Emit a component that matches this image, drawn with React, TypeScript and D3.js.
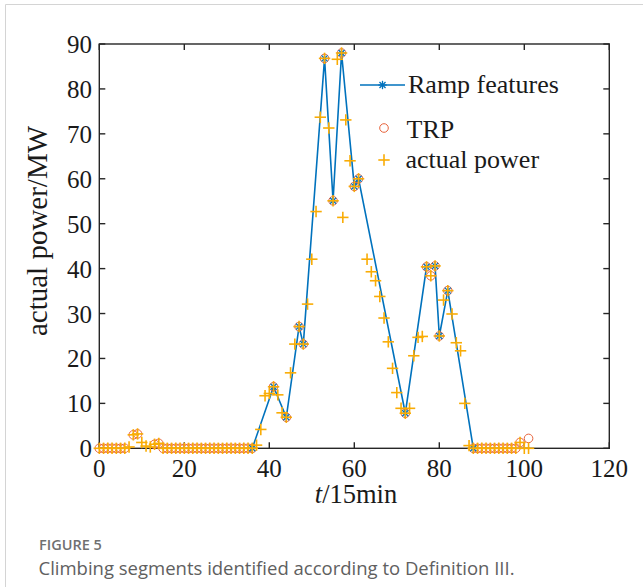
import React from 'react';
import * as d3 from 'd3';

// actual power (t, MW)
const powerT = [
  0, 1, 2, 3, 4, 5, 6, 7, 8, 9, 10, 11, 12, 13, 14, 15, 16, 17, 18, 19, 20,
  21, 22, 23, 24, 25, 26, 27, 28, 29, 30, 31, 32, 33, 34, 35, 36, 37, 38, 39,
  40, 41, 42, 43, 44, 45, 46, 47, 48, 49, 50, 51, 52, 53, 54, 55, 56, 57, 57.3,
  58, 59, 60, 61, 63, 64, 65, 66, 67, 68, 69, 70, 71, 72, 73, 74, 75, 76, 77,
  78, 79, 80, 81, 82, 83, 84, 85, 86, 87, 88, 89, 90, 91, 92, 93, 94, 95, 96,
  97, 98, 99, 100, 101,
];
const powerV = [
  0, 0, 0, 0, 0, 0, 0, 0.3, 3.0, 3.2, 1.3, 0.5, 0.3, 0.9, 1.1, 0, 0, 0, 0, 0, 0,
  0, 0, 0, 0, 0, 0, 0, 0, 0, 0, 0, 0, 0, 0, 0, 0, 0.7, 4.2, 11.7,
  12.2, 13.7, 11.9, 7.9, 6.9, 16.8, 23.2, 27.1, 23.2, 32.1, 42.1, 52.7, 73.7, 86.8, 71.3, 55.1, 86.6, 88.0, 51.4,
  73.1, 64.0, 58.3, 60.0, 42.1, 39.3, 37.3, 33.8, 29.0, 23.7, 17.8, 12.4, 8.9, 7.8, 8.9, 20.6, 24.7, 24.9, 40.4,
  38.4, 40.6, 25.0, 33.0, 35.1, 29.9, 23.5, 21.7, 10.0, 0.6, 0, 0, 0, 0, 0, 0, 0, 0, 0,
  0, 0, 1.3, 0, 0,
];

// TRP (t, MW)
const trpT = [
  0, 1, 2, 3, 4, 5, 6, 8, 9, 13, 14, 15, 16, 17, 18, 19, 20, 21, 22, 23, 24, 25,
  26, 27, 28, 29, 30, 31, 32, 33, 34, 35, 36, 41, 44, 47, 48, 53, 55, 57, 60, 61,
  72, 77, 78, 79, 80, 82, 88, 89, 90, 91, 92, 93, 94, 95, 96, 97, 98, 99, 101,
];
const trpV = [
  0, 0, 0, 0, 0, 0, 0, 3.0, 3.2, 0.9, 1.1, 0, 0, 0, 0, 0, 0, 0, 0, 0, 0, 0,
  0, 0, 0, 0, 0, 0, 0, 0, 0, 0, 0, 13.7, 6.9, 27.1, 23.2, 86.8, 55.1, 88.0, 58.3, 60.0,
  7.8, 40.4, 38.4, 40.6, 25.0, 35.1, 0, 0, 0, 0, 0, 0, 0, 0, 0, 0, 0, 1.3, 2.2,
];

// Ramp features (t, MW)
const featT = [36, 41, 44, 47, 48, 53, 55, 57, 60, 61, 72, 77, 79, 80, 82, 88];
const featV = [0, 13.7, 6.9, 27.1, 23.2, 86.8, 55.1, 88.0, 58.3, 60.0, 7.8, 40.4, 40.6, 25.0, 35.1, 0];

const xTicks = [0, 20, 40, 60, 80, 100, 120];
const yTicks = [0, 10, 20, 30, 40, 50, 60, 70, 80, 90];

const BLUE = '#0072BD';
const ORANGE = '#E8643C';
const YELLOW = '#F9AC05';
const AXIS = '#262626';
const SERIF = "'Times New Roman', 'Liberation Serif', serif";
const SANS = "'Open Sans', 'Noto Sans', sans-serif";

function Asterisk({ cx, cy, r = 4.2, color = BLUE }: { cx: number; cy: number; r?: number; color?: string }) {
  const d = r * 0.72;
  return (
    <g stroke={color} strokeWidth={1.3}>
      <line x1={cx - r} y1={cy} x2={cx + r} y2={cy} />
      <line x1={cx} y1={cy - r} x2={cx} y2={cy + r} />
      <line x1={cx - d} y1={cy - d} x2={cx + d} y2={cy + d} />
      <line x1={cx - d} y1={cy + d} x2={cx + d} y2={cy - d} />
    </g>
  );
}

function Plus({ cx, cy, r = 5.7, color = YELLOW }: { cx: number; cy: number; r?: number; color?: string }) {
  return (
    <g stroke={color} strokeWidth={1.6}>
      <line x1={cx - r} y1={cy} x2={cx + r} y2={cy} />
      <line x1={cx} y1={cy - r} x2={cx} y2={cy + r} />
    </g>
  );
}

export default function App() {
  const W = 643;
  const H = 587;
  const x = d3.scaleLinear().domain([0, 120]).range([99.3, 609.3]);
  const y = d3.scaleLinear().domain([0, 90]).range([448.3, 44]);
  const [x0, x1] = x.range();
  const [y0, y1] = y.range();
  const tl = 6;

  const lineGen = d3
    .line<number>()
    .x((_, i) => x(featT[i]))
    .y((d) => y(d));

  return (
    <svg
      width={W}
      height={H}
      style={{ position: 'absolute', left: 0, top: 0, background: '#fff' }}
    >
      <rect x={0} y={0} width={W} height={H} fill="#fff" />
      {/* figure frame */}
      <line x1={5.5} y1={4.5} x2={W} y2={4.5} stroke="#d4d4d4" strokeWidth={1} />
      <line x1={5.5} y1={4.5} x2={5.5} y2={H} stroke="#d4d4d4" strokeWidth={1} />

      {/* axes box */}
      <rect x={x0} y={y1} width={x1 - x0} height={y0 - y1} fill="none" stroke={AXIS} strokeWidth={1.4} />
      {xTicks.map((t) => (
        <g key={'xt' + t}>
          <line x1={x(t)} x2={x(t)} y1={y0} y2={y0 - tl} stroke={AXIS} strokeWidth={1.4} />
          <line x1={x(t)} x2={x(t)} y1={y1} y2={y1 + tl} stroke={AXIS} strokeWidth={1.4} />
          <text x={x(t)} y={476.5} textAnchor="middle" fontFamily={SERIF} fontSize={25} fill="#1a1a1a">
            {t}
          </text>
        </g>
      ))}
      {yTicks.map((v) => (
        <g key={'yt' + v}>
          <line x1={x0} x2={x0 + tl} y1={y(v)} y2={y(v)} stroke={AXIS} strokeWidth={1.4} />
          <line x1={x1} x2={x1 - tl} y1={y(v)} y2={y(v)} stroke={AXIS} strokeWidth={1.4} />
          <text x={92} y={y(v) + 9} textAnchor="end" fontFamily={SERIF} fontSize={25} fill="#1a1a1a">
            {v}
          </text>
        </g>
      ))}

      {/* axis labels */}
      <text
        transform={`translate(47,231) rotate(-90)`}
        textAnchor="middle"
        fontFamily={SERIF}
        fontSize={29}
        fill="#1a1a1a"
      >
        actual power/MW
      </text>
      <text x={356} y={503} textAnchor="middle" fontFamily={SERIF} fontSize={26.5} fill="#1a1a1a">
        <tspan fontStyle="italic">t</tspan>/15min
      </text>

      {/* Ramp features line */}
      <path d={lineGen(featV) || ''} fill="none" stroke={BLUE} strokeWidth={1.6} />

      {/* TRP circles */}
      {trpT.map((t, i) => (
        <circle key={'c' + i} cx={x(t)} cy={y(trpV[i])} r={4.3} fill="none" stroke={ORANGE} strokeWidth={1} />
      ))}

      {/* feature asterisks */}
      {featT.map((t, i) => (
        <Asterisk key={'a' + i} cx={x(t)} cy={y(featV[i])} />
      ))}

      {/* actual power plus markers */}
      {powerT.map((t, i) => (
        <Plus key={'p' + i} cx={x(t)} cy={y(powerV[i])} />
      ))}

      {/* legend */}
      <line x1={360} x2={405} y1={85} y2={85} stroke={BLUE} strokeWidth={1.6} />
      <Asterisk cx={382.5} cy={85} />
      <text x={408} y={93} fontFamily={SERIF} fontSize={26} fill="#1a1a1a">
        Ramp features
      </text>
      <circle cx={384} cy={128} r={4.3} fill="none" stroke={ORANGE} strokeWidth={1} />
      <text x={406.5} y={138} fontFamily={SERIF} fontSize={26} fill="#1a1a1a">
        TRP
      </text>
      <Plus cx={384} cy={160} />
      <text x={405.5} y={168} fontFamily={SERIF} fontSize={26} fill="#1a1a1a">
        actual power
      </text>

      {/* caption */}
      <text x={39} y={549.5} fontFamily={SANS} fontSize={14.5} fontWeight={600} fill="#707070">
        FIGURE 5
      </text>
      <text x={38.5} y={575} fontFamily={SANS} fontSize={18.5} fill="#606060">
        Climbing segments identified according to Definition III.
      </text>
    </svg>
  );
}
